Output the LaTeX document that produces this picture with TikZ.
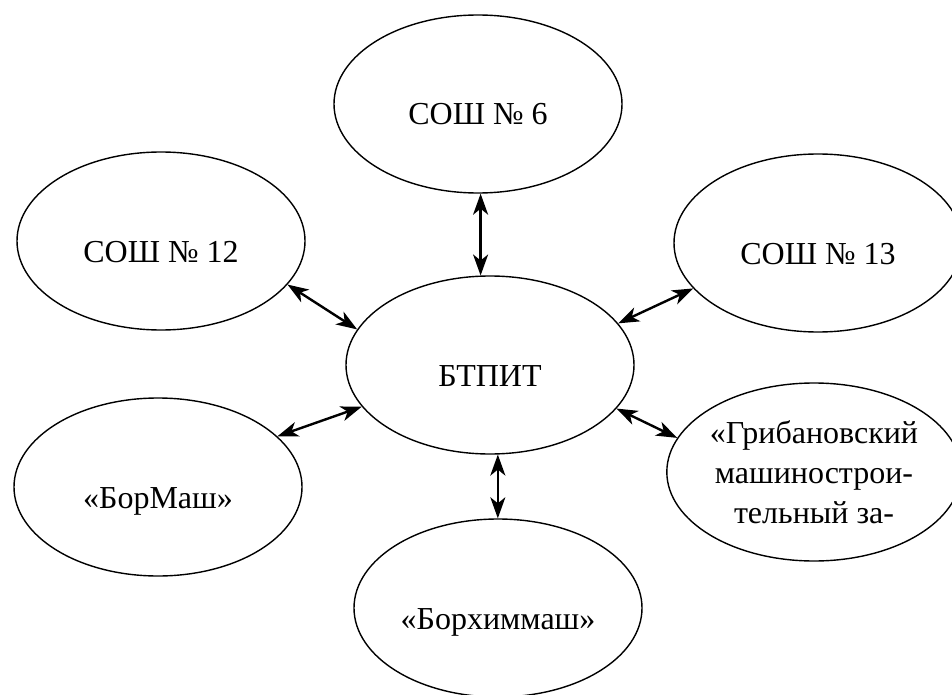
\documentclass[tikz,border=0pt]{standalone}
\usepackage{fontspec}
\setmainfont{Liberation Serif}
\usetikzlibrary{shapes.geometric,arrows.meta}
\tikzset{
  orgbox/.style={ellipse, draw, line width=1.4pt, minimum width=288pt, minimum height=178pt, inner sep=0pt, font=\fontsize{32}{40}\selectfont},
  lowtext/.style={text height=42pt, text depth=0pt},
  link/.style={line width=2.4pt, {Stealth[length=21pt,width=15pt,inset=6pt]}-{Stealth[length=21pt,width=15pt,inset=6pt]}}
}
\begin{document}
\begin{tikzpicture}[x=1pt,y=-1pt]
\useasboundingbox (0,0) rectangle (952,695);
\node[orgbox,lowtext] (s6) at (478,104) {СОШ № 6};
\node[orgbox,lowtext] (s12) at (161,241) {СОШ № 12};
\node[orgbox,lowtext] (s13) at (818,243) {СОШ № 13};
\node[orgbox,lowtext] (b) at (490,365) {БТПИТ};
\node[orgbox,lowtext] (bm) at (158,487) {«БорМаш»};
\node[orgbox,align=center] (gr) at (814,472) {«Грибановский\\машинострои-\\тельный за-};
\node[orgbox,lowtext] (bh) at (498,608) {«Борхиммаш»};
\draw[link] (s6.south -| b.96.5) -- (b.96.5);
\draw[link] (s12.-19) -- (b.165.3);
\draw[link] (s13.-160.6) -- (b.18);
\draw[link] (bm.23) -- (b.-162.5);
\draw[link] (b.-19.6) -- (gr.166.4);
\draw[link] (b.-85) -- (b.-85 |- bh.north);
\end{tikzpicture}
\end{document}
